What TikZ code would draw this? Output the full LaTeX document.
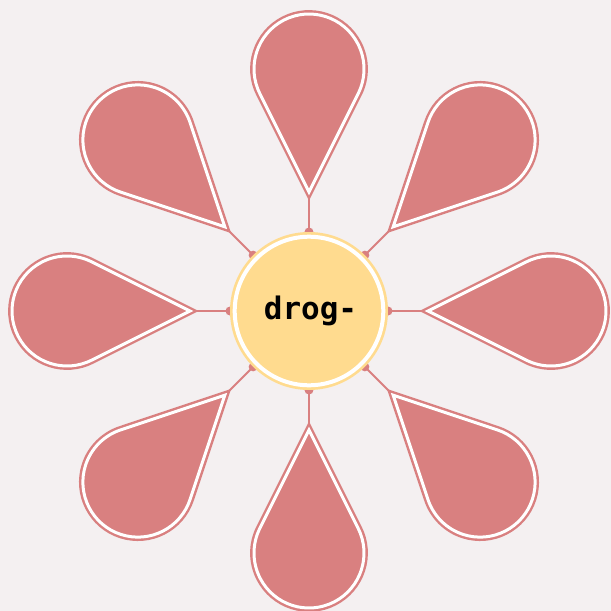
\documentclass[tikz,border=0pt]{standalone}
\usepackage{fontspec}
\newfontfamily\hubfont{DejaVu Sans Mono}
\definecolor{bgcol}{HTML}{F4F0F1}
\definecolor{petalcol}{HTML}{D98080}
\definecolor{hubcol}{HTML}{FFDB8F}
\pgfdeclarelayer{links}
\pgfsetlayers{links,main}

\begin{document}
\begin{tikzpicture}[x=1pt,y=1pt,
  hub/.style={circle,minimum size=148.6pt,inner sep=0pt,outer sep=4.7pt,fill=hubcol,draw=hubcol,line width=2.7pt,double=white,double distance=4pt,font=\hubfont\bfseries\fontsize{31}{37}\selectfont},
  petal/.style={fill=petalcol,draw=petalcol,line width=2.4pt,double=white,double distance=3pt},
  link/.style={draw=petalcol,line width=2pt}]
\path[use as bounding box] (-309,-300) rectangle (302,311);
\node[hub] (hub) at (0,0) {\hspace{3pt}drog-};
\begin{pgfonlayer}{links}
\fill[bgcol] (-309,-300) rectangle (302,311);
\foreach \a in {0,45,...,315} {
  \coordinate (tip\a) at (\a:119);
  \draw[link] (hub.\a) -- (tip\a);
  \fill[petalcol] (hub.\a) circle (4.5pt);
}
\end{pgfonlayer}
\foreach \a in {0,45,...,315}
  \path[petal,rotate=\a] (119,0) -- ([shift={(117.1:55)}]242,0) arc[start angle=117.1,end angle=-117.1,radius=55] -- cycle;
\end{tikzpicture}
\end{document}
